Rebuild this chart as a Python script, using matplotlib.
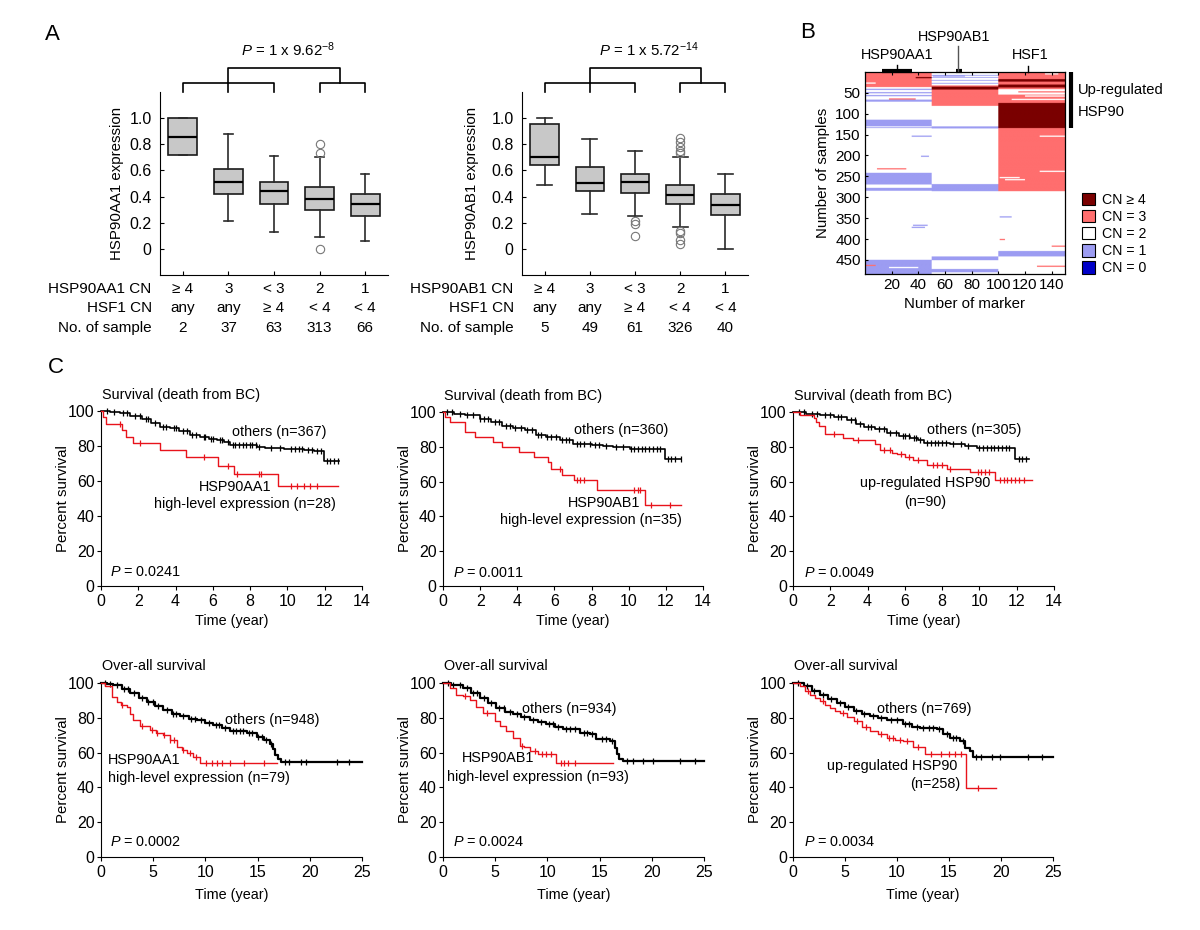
import numpy as np
import matplotlib
matplotlib.use('Agg')
import matplotlib.pyplot as plt
from matplotlib.colors import ListedColormap, BoundaryNorm
from matplotlib.patches import Patch

plt.rcParams['font.family'] = ['Liberation Sans', 'DejaVu Sans']
plt.rcParams['mathtext.fontset'] = 'custom'
plt.rcParams['mathtext.rm'] = 'Liberation Sans'
plt.rcParams['mathtext.it'] = 'Liberation Sans:italic'
plt.rcParams['font.size'] = 10.4

# ---------------- Panel A data ----------------
aa1_cn = ['≥ 4', '3', '< 3', '2', '1']
aa1_hsf1 = ['any', 'any', '≥ 4', '< 4', '< 4']
aa1_n = [2, 37, 63, 313, 66]
aa1_q1 = [0.72, 0.42, 0.34, 0.30, 0.25]
aa1_med = [0.855, 0.51, 0.44, 0.38, 0.345]
aa1_q3 = [1.0, 0.61, 0.51, 0.475, 0.42]
aa1_lo = [0.72, 0.21, 0.13, 0.09, 0.06]
aa1_hi = [1.0, 0.88, 0.71, 0.70, 0.57]
aa1_fliers = [[], [], [], [0.80, 0.73, 0.0], []]
aa1_p = r"$\it{P}$ = 1 x 9.62$^{-8}$"

ab1_cn = ['≥ 4', '3', '< 3', '2', '1']
ab1_hsf1 = ['any', 'any', '≥ 4', '< 4', '< 4']
ab1_n = [5, 49, 61, 326, 40]
ab1_q1 = [0.64, 0.44, 0.43, 0.34, 0.26]
ab1_med = [0.70, 0.50, 0.51, 0.415, 0.335]
ab1_q3 = [0.955, 0.63, 0.57, 0.49, 0.42]
ab1_lo = [0.49, 0.27, 0.25, 0.17, 0.0]
ab1_hi = [1.0, 0.84, 0.75, 0.70, 0.57]
ab1_fliers = [[], [], [0.21, 0.19, 0.10],
              [0.85, 0.82, 0.78, 0.75, 0.73, 0.14, 0.12, 0.07, 0.04], []]
ab1_p = r"$\it{P}$ = 1 x 5.72$^{-14}$"

# ---------------- Panel B data ----------------
n_samples = 483
n_markers = 150
gene_names = ['HSP90AA1', 'HSP90AB1', 'HSF1']
gene_blocks = [(0, 50), (50, 100), (100, 150)]
gene_marker = [24, 70, 122]
# (first sample, last sample, copy number) over the whole block of a gene
aa1_segs = [(1, 36, 3), (37, 40, 2), (41, 43, 1), (44, 48, 2), (49, 51, 1),
            (52, 55, 2), (56, 58, 1), (59, 66, 2), (67, 71, 1), (72, 114, 2),
            (115, 130, 1), (131, 132, 2), (133, 134, 1), (135, 241, 2),
            (242, 269, 1), (270, 277, 2), (278, 284, 1), (285, 449, 2),
            (450, 483, 1)]
ab1_segs = [(1, 7, 2), (8, 9, 1), (10, 12, 2), (13, 14, 1), (15, 19, 2),
            (20, 21, 1), (22, 26, 2), (27, 28, 1), (29, 32, 2), (33, 35, 3),
            (36, 42, 4), (43, 81, 3), (82, 130, 2), (131, 135, 1),
            (136, 268, 2), (269, 285, 1), (286, 441, 2), (442, 450, 1),
            (451, 471, 2), (472, 479, 1), (480, 483, 2)]
hsf1_segs = [(1, 17, 3), (18, 23, 4), (24, 30, 3), (31, 37, 4), (38, 41, 3),
             (42, 54, 2), (55, 74, 3), (75, 134, 4), (135, 285, 3),
             (286, 428, 2), (429, 441, 1), (442, 483, 2)]
# (first sample, last sample, first marker, last marker, copy number)
partial_segs = [(13, 15, 38, 50, 4), (26, 28, 0, 8, 2), (64, 66, 18, 38, 3),
                (153, 155, 35, 50, 1), (201, 203, 42, 48, 1),
                (231, 233, 9, 31, 3), (366, 368, 36, 47, 1),
                (371, 373, 35, 45, 1), (462, 464, 0, 8, 3),
                (467, 469, 18, 40, 2), (4, 6, 135, 145, 2),
                (47, 49, 115, 150, 3), (57, 59, 120, 150, 2),
                (65, 67, 110, 150, 2), (153, 155, 131, 150, 2),
                (237, 239, 131, 150, 2), (252, 254, 101, 116, 2),
                (257, 259, 105, 120, 2), (346, 348, 101, 110, 1),
                (400, 402, 101, 105, 3), (416, 418, 140, 150, 3),
                (464, 466, 129, 150, 3), (9, 11, 51, 75, 1)]
cn_labels = ['CN ≥ 4', 'CN = 3', 'CN = 2', 'CN = 1', 'CN = 0']
cn_values = [4, 3, 2, 1, 0]
cn_colors = ['#7a0000', '#ff6e6e', '#ffffff', '#9c9cf2', '#0000c8']
upreg_range = (0.5, 134)

# ---------------- Panel C data ----------------
dss_aa1_oth_t = [0, 0.5, 1.0, 1.56, 2.2, 2.7, 3.17, 3.7, 4.2, 4.78, 5.3, 5.8,
                 6.2, 6.6, 6.93, 7.5, 8.36, 8.8, 9.8, 10.87, 11.4, 11.94, 12.75]
dss_aa1_oth_s = [100, 99.5, 99, 97, 95.5, 93, 91, 90, 88.5, 86.5, 85, 84,
                 83.5, 82, 80.8, 80.5, 79.5, 79, 78.5, 77.5, 77, 71.5, 71.5]
dss_aa1_oth_c = [0.3, 0.7, 1.2, 1.4, 1.8, 2.1, 2.4, 2.5, 2.9, 3.3, 3.5, 3.9,
                 4.0, 4.4, 4.6, 4.9, 5.1, 5.5, 5.6, 5.9, 6.0, 6.4, 6.5, 6.8,
                 7.1, 7.2, 7.4, 7.6, 7.8, 8.0, 8.1, 8.3, 8.5, 9.1, 9.6, 10.2,
                 10.4, 10.6, 10.8, 11.1, 11.3, 11.6, 11.8, 12.1, 12.3, 12.5,
                 12.7]
dss_aa1_hi_t = [0, 0.09, 0.27, 1.15, 1.34, 1.74, 3.17, 4.55, 6.25, 7.14, 9.5,
                12.7]
dss_aa1_hi_s = [100, 96.5, 92.8, 89, 85.2, 81.5, 77.8, 73.5, 68.8, 64, 57.2,
                57.2]
dss_aa1_hi_c = [1.0, 2.1, 5.5, 6.8, 7.3, 8.5, 8.6, 10.2, 10.5, 10.9, 11.2,
                11.6]

dss_ab1_oth_t = [0, 0.6, 1.2, 1.97, 2.6, 3.2, 3.77, 4.4, 5.0, 5.57, 6.3, 7.0,
                 8.0, 8.6, 9.16, 10.05, 11.94, 12.84]
dss_ab1_oth_s = [100, 99, 98, 96, 94.5, 92, 91, 89.5, 87, 85.5, 84, 81.5, 81,
                 80.5, 80, 79, 73, 73]
dss_ab1_oth_c = [0.2, 0.5, 0.9, 1.3, 1.6, 2.0, 2.2, 2.4, 2.8, 3.0, 3.4, 3.6,
                 3.9, 4.2, 4.5, 4.8, 5.1, 5.3, 5.6, 5.8, 6.1, 6.4, 6.6, 6.8,
                 7.2, 7.4, 7.6, 7.9, 8.2, 8.4, 8.8, 9.3, 9.7, 10.1, 10.3, 10.5,
                 10.7, 10.9, 11.1, 11.3, 11.5, 11.7, 12.1, 12.3, 12.5, 12.8]
dss_ab1_hi_t = [0, 0.09, 0.36, 1.17, 1.7, 2.69, 3.2, 4.1, 4.88, 5.66, 5.83,
                6.43, 7.04, 8.3, 10.9, 12.84]
dss_ab1_hi_s = [100, 97, 94.3, 88.5, 85.6, 82.8, 80, 77, 74, 71, 67.5, 64, 61,
                55.3, 46.5, 46.5]
dss_ab1_hi_c = [6.3, 7.2, 7.4, 7.6, 10.3, 10.5, 10.6, 11.2, 12.2]

dss_hsp_oth_t = [0, 0.7, 1.46, 2.2, 2.9, 3.4, 3.79, 4.4, 5.04, 5.7, 6.29, 6.7,
                 7.05, 8.43, 9.2, 9.86, 11.9, 12.68]
dss_hsp_oth_s = [100, 99, 98, 97, 95.5, 93, 91.5, 90, 88, 86, 85.3, 84, 82.3,
                 81.5, 80.5, 79.5, 72.8, 72.8]
dss_hsp_oth_c = [0.3, 0.6, 1.0, 1.3, 1.7, 2.0, 2.4, 2.6, 3.1, 3.3, 3.6, 4.0,
                 4.2, 4.6, 4.9, 5.2, 5.5, 5.9, 6.0, 6.2, 6.5, 6.6, 6.8, 7.2,
                 7.4, 7.6, 7.8, 8.0, 8.2, 8.6, 9.0, 9.4, 10.0, 10.2, 10.4,
                 10.6, 10.8, 11.0, 11.2, 11.4, 11.6, 12.1, 12.3, 12.5]
dss_hsp_up_t = [0, 0.39, 1.1, 1.25, 1.37, 1.73, 2.7, 3.2, 4.4, 4.68, 5.3, 5.57,
                6.0, 6.46, 7.18, 8.25, 9.5, 10.84, 12.8]
dss_hsp_up_s = [100, 98.5, 96.5, 94, 91.8, 87.6, 85.3, 83.7, 81.5, 78, 76.5,
                75.7, 74, 72.3, 69.4, 67.5, 65.6, 60.8, 60.8]
dss_hsp_up_c = [2.2, 3.5, 4.9, 5.2, 5.8, 6.2, 6.7, 7.5, 7.7, 8.0, 8.4, 9.9,
                10.1, 10.3, 10.5, 11.1, 11.3, 11.5, 11.7, 11.9, 12.1, 12.4]

os_aa1_oth_t = [0, 0.6, 1.18, 2.0, 2.78, 3.6, 4.38, 5.2, 5.98, 6.8, 7.58, 8.4,
                9.18, 10.0, 10.77, 11.6, 12.37, 13.97, 14.9, 15.57, 16.2, 16.5,
                16.7, 17.0, 17.2, 25]
os_aa1_oth_s = [100, 99.5, 99, 96.5, 94, 91.5, 89, 86.5, 84.3, 82.3, 80.8,
                79.5, 78.5, 77, 75.7, 74, 72.4, 71.3, 69, 67, 65, 62.3, 58.4,
                56.5, 54.6, 54.6]
os_aa1_oth_c = [0.4, 0.9, 1.5, 2.2, 2.6, 3.2, 3.9, 4.5, 5.0, 5.5, 6.3, 6.9,
                7.2, 7.9, 8.6, 9.0, 9.6, 10.3, 11.0, 11.3, 11.9, 12.6, 12.9,
                13.3, 13.6, 14.2, 14.5, 15.0, 15.4, 15.8, 16.3, 17.6, 18.0,
                19.2, 19.6, 22.6, 23.8]
os_aa1_hi_t = [0, 0.38, 1.02, 1.5, 1.9, 2.46, 2.8, 3.1, 3.74, 4.7, 5.3, 5.98,
               6.6, 7.26, 7.8, 8.2, 8.86, 9.5, 16.85]
os_aa1_hi_s = [100, 98, 92, 89, 87.5, 86, 82, 78.5, 75.5, 73, 71.5, 70, 67,
               63.5, 61.5, 59.5, 57.5, 53.8, 53.8]
os_aa1_hi_c = [2.0, 3.9, 4.9, 5.4, 6.0, 6.6, 7.0, 7.9, 8.5, 9.1, 10.1, 10.6,
               11.1, 11.6, 12.4, 13.7, 15.6]

os_ab1_oth_t = [0, 0.8, 1.92, 2.7, 3.52, 4.3, 5.1, 5.9, 6.71, 7.5, 8.31, 9.1,
                9.91, 10.7, 11.5, 13.1, 14.07, 14.7, 15.98, 16.46, 16.7, 16.9,
                17.2, 25]
os_ab1_oth_s = [100, 99, 97, 94, 91.4, 88.5, 85.7, 83.5, 82, 80.5, 79, 77.5,
                76.2, 74.8, 73.3, 71.4, 70.5, 67.6, 66.7, 62.9, 59, 56.2, 55.2,
                55.2]
os_ab1_oth_c = [0.5, 1.0, 1.6, 2.3, 2.9, 3.3, 3.9, 4.6, 5.4, 5.8, 6.4, 7.1,
                7.8, 8.6, 9.4, 10.2, 10.5, 11.0, 11.8, 12.2, 12.6, 13.5, 13.8,
                14.3, 15.2, 15.6, 16.2, 17.6, 18.2, 19.2, 20.1, 22.7, 24.1]
os_ab1_hi_t = [0, 0.64, 1.28, 1.9, 2.56, 3.2, 3.84, 4.96, 5.44, 6.07, 6.71,
               7.35, 7.8, 8.31, 9.11, 10.87, 16.3]
os_ab1_hi_s = [100, 97, 93.3, 92.5, 90.5, 86, 83, 78, 75.2, 72.4, 68.6, 64,
               63, 61, 59, 53.8, 53.8]
os_ab1_hi_c = [2.1, 4.2, 7.6, 8.8, 9.5, 9.9, 10.3, 11.3, 11.6, 12.0, 12.6]

os_hsp_oth_t = [0, 1.02, 1.8, 2.62, 3.4, 4.22, 5.0, 5.82, 6.6, 7.42, 8.2, 9.0,
                10.6, 11.4, 12.2, 13.8, 14.45, 15.1, 16.05, 16.5, 17.0, 17.3,
                25]
os_hsp_oth_s = [100, 98, 95.5, 93.3, 91, 88.6, 86, 83.8, 82.3, 81, 79.8, 78.5,
                76.6, 75, 73.9, 73.3, 70.5, 68.6, 66.7, 62.9, 61, 57.5, 57.5]
os_hsp_oth_c = [0.5, 1.3, 2.0, 2.9, 3.7, 4.5, 5.3, 6.1, 6.8, 7.7, 8.5, 9.4,
                10.0, 10.8, 11.2, 11.9, 12.5, 13.1, 13.5, 14.0, 14.8, 15.4,
                15.7, 16.3, 17.6, 18.1, 19.1, 19.9, 22.6, 23.9]
os_hsp_up_t = [0, 0.7, 1.2, 1.66, 2.1, 2.62, 3.1, 3.58, 4.0, 4.54, 5.2, 5.82,
               6.6, 7.42, 8.2, 9.0, 9.8, 10.6, 11.57, 12.69, 16.62, 19.5]
os_hsp_up_s = [100, 98, 95.5, 93.3, 91.5, 89.5, 87.5, 85.7, 84, 82.9, 80.5, 78,
               75, 72.4, 70.5, 68.6, 67.5, 66.7, 63.2, 59, 39.5, 39.5]
os_hsp_up_c = [1.4, 2.9, 4.8, 6.2, 7.0, 8.5, 9.2, 9.6, 10.3, 11.0, 12.0, 13.3,
               14.2, 15.0, 15.6, 16.2, 17.8]

# ---------------- figure ----------------
W, H = 1200, 930
fig = plt.figure(figsize=(W / 100, H / 100), dpi=100)
TICK_FS = 11.5


def px_axes(l, t, r, b):
    return fig.add_axes([l / W, 1 - b / H, (r - l) / W, (b - t) / H])


def ftext(x, y, s, **kw):
    fig.text(x / W, 1 - y / H, s, **kw)


# ---- Panel A ----
def box_panel(rect, q1, med, q3, lo, hi, fliers, cn, hsf, n, gene, ptext,
              capw, ylab_x):
    ax = px_axes(*rect)
    stats = [dict(med=m, q1=a, q3=b, whislo=l, whishi=h, fliers=f)
             for a, m, b, l, h, f in zip(q1, med, q3, lo, hi, fliers)]
    pos = np.arange(1, len(stats) + 1)
    ax.bxp(stats, positions=pos, widths=0.63, patch_artist=True,
           capwidths=capw,
           boxprops=dict(facecolor='#c8c8c8', edgecolor='#1a1a1a', lw=1.2),
           medianprops=dict(color='black', lw=1.6),
           whiskerprops=dict(color='#2a2a2a', lw=1.2),
           capprops=dict(color='#2a2a2a', lw=1.2),
           flierprops=dict(marker='o', mfc='none', mec='#777777', ms=6,
                           mew=0.8))
    ax.set_yticks([0, 0.2, 0.4, 0.6, 0.8, 1.0])
    ax.set_yticklabels(['0', '0.2', '0.4', '0.6', '0.8', '1.0'],
                       fontsize=TICK_FS)
    ax.set_xticks(pos)
    ax.set_xticklabels([f"{c}\n{h}\n{k}" for c, h, k in zip(cn, hsf, n)],
                       linespacing=1.5, fontsize=11)
    for s in ['top', 'right']:
        ax.spines[s].set_visible(False)
    ax.tick_params(axis='y', direction='in', length=3, pad=6)
    ax.tick_params(axis='x', direction='in', length=3, pad=4.8)
    ax.set_ylabel(f'{gene} expression', fontsize=10.8)
    ax.yaxis.set_label_coords(ylab_x, 0.5)
    ax.annotate(f'{gene} CN\nHSF1 CN\nNo. of sample', xy=(0, 0),
                xycoords='axes fraction', xytext=(-6, -4.8),
                textcoords='offset points', ha='right', va='top',
                multialignment='right', linespacing=1.5, fontsize=11)
    kw = dict(color='black', lw=1.2, clip_on=False)
    y_low, y_mid, y_top = 1.2, 1.27, 1.38
    ax.plot([1, 1, 3, 3], [y_low, y_mid, y_mid, y_low], **kw)
    ax.plot([2, 2], [y_low, y_mid], **kw)
    ax.plot([4, 4, 5, 5], [y_low, y_mid, y_mid, y_low], **kw)
    ax.plot([2, 2, 4.45, 4.45], [y_mid, y_top, y_top, y_mid], **kw)
    ax.text(3.3, 1.52, ptext, ha='center', va='center', fontsize=10.8,
            clip_on=False)
    ax.set_xlim(0.5, len(stats) + 0.5)
    ax.set_ylim(-0.2, 1.2)
    return ax


box_panel((160, 92, 388, 275), aa1_q1, aa1_med, aa1_q3, aa1_lo, aa1_hi,
          aa1_fliers, aa1_cn, aa1_hsf1, aa1_n, 'HSP90AA1', aa1_p, 0.18, -0.16)
box_panel((522, 92, 748, 275), ab1_q1, ab1_med, ab1_q3, ab1_lo, ab1_hi,
          ab1_fliers, ab1_cn, ab1_hsf1, ab1_n, 'HSP90AB1', ab1_p, 0.33, -0.19)

# ---- Panel B ----
axb = px_axes(865, 72, 1065, 274)
M = np.full((n_samples, n_markers), 2)
for segs, (m0, m1) in zip([aa1_segs, ab1_segs, hsf1_segs], gene_blocks):
    for s0, s1, cn in segs:
        M[s0 - 1:s1, m0:m1] = cn
for s0, s1, m0, m1, cn in partial_segs:
    M[s0 - 1:s1, m0:m1] = cn
cmap = ListedColormap(cn_colors[::-1])
norm = BoundaryNorm([-0.5, 0.5, 1.5, 2.5, 3.5, 4.5], cmap.N)
axb.imshow(M, cmap=cmap, norm=norm, aspect='auto',
           extent=(0, n_markers, n_samples + 0.5, 0.5),
           interpolation='antialiased', interpolation_stage='rgba')
axb.set_xticks([20, 40, 60, 80, 100, 120, 140])
axb.set_yticks([50, 100, 150, 200, 250, 300, 350, 400, 450])
axb.tick_params(direction='in', length=2.5, top=True, right=False, pad=3,
                labelsize=11)
for s in axb.spines.values():
    s.set_linewidth(0.9)
axb.set_ylabel('Number of samples', fontsize=10.8)
axb.yaxis.set_label_coords(-0.175, 0.5)
axb.set_xlabel('Number of marker', fontsize=10.8)
axb.xaxis.set_label_coords(0.5, -0.115)
# gene position markers above the heat map
lkw = dict(color='black', clip_on=False)
axb.plot([13, 35], [-2.6, -2.6], lw=3, solid_capstyle='butt', **lkw)
axb.plot([gene_marker[0], gene_marker[0]], [-2.6, -16], lw=1, **lkw)
axb.plot([68, 73], [-2.6, -2.6], lw=3, solid_capstyle='butt', **lkw)
axb.plot([gene_marker[1], gene_marker[1]], [-2.6, -62], lw=1, color='#555555',
         clip_on=False)
axb.plot([gene_marker[2], gene_marker[2]], [0.5, -14], lw=1, **lkw)
axb.text(gene_marker[0] + 0, -40, gene_names[0], ha='center', va='center',
         fontsize=10.4)
axb.text(gene_marker[1] - 3, -82, gene_names[1], ha='center', va='center',
         fontsize=10.4)
axb.text(gene_marker[2] + 2, -40, gene_names[2], ha='center', va='center',
         fontsize=10.4)
axb.plot([154.5, 154.5], upreg_range, lw=3, solid_capstyle='butt', **lkw)
axb.text(159.5, 43, 'Up-regulated', ha='left', va='center', fontsize=10.6,
         clip_on=False)
axb.text(159.5, 96, 'HSP90', ha='left', va='center', fontsize=10.6,
         clip_on=False)
axb.set_xlim(0, n_markers)
axb.set_ylim(n_samples + 0.5, 0.5)
handles = [Patch(facecolor=c, edgecolor='black', lw=0.8) for c in cn_colors]
fig.legend(handles, cn_labels, loc='upper left',
           bbox_to_anchor=(1082 / W, 1 - 193 / H), frameon=False,
           handlelength=0.95, handleheight=0.95, handletextpad=0.45,
           labelspacing=0.22, borderpad=0, borderaxespad=0, fontsize=10.2)


# ---- Panel C ----
def km(ax, t, s, cens, color, lw):
    t = np.asarray(t, float)
    s = np.asarray(s, float)
    ax.step(t, s, where='post', color=color, lw=lw, clip_on=False, zorder=3)
    c = np.asarray(cens, float)
    idx = np.searchsorted(t, c, side='right') - 1
    ax.plot(c, s[idx], ls='none', marker='|', color=color, ms=4, mew=0.9,
            clip_on=False, zorder=3)


def surv_axes(rect, xmax, xstep, title, top_row):
    ax = px_axes(*rect)
    ax.set_xlim(0, xmax)
    ax.set_ylim(0, 100)
    ax.set_xticks(np.arange(0, xmax + 0.1, xstep))
    ax.set_yticks([0, 20, 40, 60, 80, 100])
    for s in ['top', 'right']:
        ax.spines[s].set_visible(False)
    ax.tick_params(axis='y', direction='out', length=3, pad=1.5,
                   labelsize=TICK_FS)
    ax.tick_params(axis='x', direction='out', length=3, pad=2.5,
                   labelsize=TICK_FS)
    ax.set_ylabel('Percent survival', fontsize=10.8)
    ax.yaxis.set_label_coords(-0.118, 0.5)
    ax.set_xlabel('Time (year)', fontsize=10.4)
    ax.xaxis.set_label_coords(0.5, -0.16 if top_row else -0.178)
    ax.text(0.003, 1.09 if top_row else 1.10, title, transform=ax.transAxes,
            ha='left', va='center', fontsize=10.4)
    return ax


RED = '#e8131b'
t1 = 'Survival (death from BC)'
t2 = 'Over-all survival'

ax = surv_axes((101, 411, 362, 586), 14, 2, t1, True)
km(ax, dss_aa1_oth_t, dss_aa1_oth_s, dss_aa1_oth_c, 'black', 1.2)
km(ax, dss_aa1_hi_t, dss_aa1_hi_s, dss_aa1_hi_c, RED, 1.0)
ax.text(12.12, 88, 'others (n=367)', ha='right', va='center')
ax.text(7.19, 56.6, 'HSP90AA1', ha='center', va='center')
ax.text(7.7, 46.9, 'high-level expression (n=28)', ha='center', va='center')
ax.text(0.48, 8, r'$\it{P}$ = 0.0241', ha='left', va='center')

ax = surv_axes((443, 412, 703, 586), 14, 2, t1, True)
km(ax, dss_ab1_oth_t, dss_ab1_oth_s, dss_ab1_oth_c, 'black', 1.2)
km(ax, dss_ab1_hi_t, dss_ab1_hi_s, dss_ab1_hi_c, RED, 1.0)
ax.text(9.61, 89.7, 'others (n=360)', ha='center', va='center')
ax.text(8.67, 47.7, 'HSP90AB1', ha='center', va='center')
ax.text(7.97, 37.9, 'high-level expression (n=35)', ha='center', va='center')
ax.text(0.54, 7.5, r'$\it{P}$ = 0.0011', ha='left', va='center')

ax = surv_axes((793, 412, 1054, 586), 14, 2, t1, True)
km(ax, dss_hsp_oth_t, dss_hsp_oth_s, dss_hsp_oth_c, 'black', 1.2)
km(ax, dss_hsp_up_t, dss_hsp_up_s, dss_hsp_up_c, RED, 1.0)
ax.text(9.74, 89.7, 'others (n=305)', ha='center', va='center')
ax.text(7.11, 59.2, 'up-regulated HSP90', ha='center', va='center')
ax.text(7.08, 48.3, '(n=90)', ha='center', va='center')
ax.text(0.59, 7.5, r'$\it{P}$ = 0.0049', ha='left', va='center')

ax = surv_axes((101, 683, 362, 857), 25, 5, t2, False)
km(ax, os_aa1_oth_t, os_aa1_oth_s, os_aa1_oth_c, 'black', 1.6)
km(ax, os_aa1_hi_t, os_aa1_hi_s, os_aa1_hi_c, RED, 1.0)
ax.text(16.4, 78.7, 'others (n=948)', ha='center', va='center')
ax.text(0.67, 55.7, 'HSP90AA1', ha='left', va='center')
ax.text(0.67, 45.4, 'high-level expression (n=79)', ha='left', va='center')
ax.text(0.86, 8.6, r'$\it{P}$ = 0.0002', ha='left', va='center')

ax = surv_axes((443, 683, 704, 857), 25, 5, t2, False)
km(ax, os_ab1_oth_t, os_ab1_oth_s, os_ab1_oth_c, 'black', 1.6)
km(ax, os_ab1_hi_t, os_ab1_hi_s, os_ab1_hi_c, RED, 1.0)
ax.text(12.1, 85, 'others (n=934)', ha='center', va='center')
ax.text(5.32, 56.9, 'HSP90AB1', ha='center', va='center')
ax.text(9.05, 46, 'high-level expression (n=93)', ha='center', va='center')
ax.text(0.96, 8.6, r'$\it{P}$ = 0.0024', ha='left', va='center')

ax = surv_axes((793, 683, 1053, 857), 25, 5, t2, False)
km(ax, os_hsp_oth_t, os_hsp_oth_s, os_hsp_oth_c, 'black', 1.6)
km(ax, os_hsp_up_t, os_hsp_up_s, os_hsp_up_c, RED, 1.0)
ax.text(12.64, 85, 'others (n=769)', ha='center', va='center')
ax.text(15.77, 52.3, 'up-regulated HSP90', ha='right', va='center')
ax.text(16.06, 42, '(n=258)', ha='right', va='center')
ax.text(1.06, 8.6, r'$\it{P}$ = 0.0034', ha='left', va='center')

# panel letters
ftext(52, 34, 'A', fontsize=16, ha='center', va='center')
ftext(808, 33, 'B', fontsize=16, ha='center', va='center')
ftext(56, 367, 'C', fontsize=16, ha='center', va='center')

fig.savefig('out.png', dpi=100)
